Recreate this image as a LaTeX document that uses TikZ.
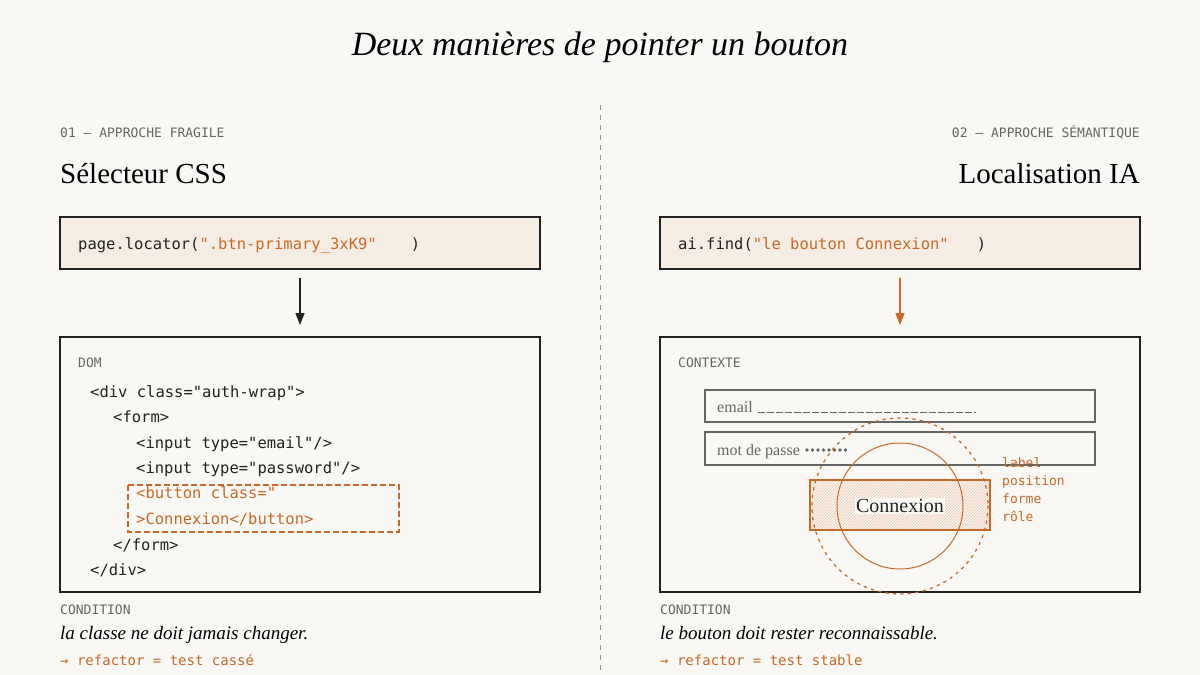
\documentclass[tikz,border=0pt]{standalone}
\usepackage{fontspec}
\setmainfont{Liberation Serif}
\setmonofont{DejaVu Sans Mono}
\usetikzlibrary{patterns,arrows.meta}
\definecolor{bg}{HTML}{FAF8F4}
\definecolor{beige}{HTML}{F5EDE3}
\definecolor{rust}{HTML}{C8692A}
\definecolor{ink}{HTML}{222222}
\definecolor{muted}{HTML}{666666}
\tikzset{
  tag/.style={anchor=base west, font=\fontsize{13}{15}\selectfont\ttfamily, text=muted, inner sep=0},
  code/.style={anchor=base west, font=\fontsize{15.5}{18}\selectfont\ttfamily, text=ink, inner sep=0},
  frame/.style={draw=ink, line width=1.2pt},
  flow/.style={-{Triangle[length=12pt,width=9pt]}, line width=1.3pt},
}
\begin{document}
\begin{tikzpicture}[x=1pt,y=-1pt]
\fill[bg] (0,0) rectangle (1200,675);
\useasboundingbox (0,0) rectangle (1200,675);

% title and divider
\node (title) at (600,47) {\fontsize{34}{38}\selectfont\itshape Deux manières de pointer un bouton};
\draw[muted!70, line width=1pt, dash pattern=on 5pt off 5pt] (600,105) -- (600,675);

% left column
\node[tag] (tagL) at (60,137) {01 — APPROCHE FRAGILE};
\node[anchor=base west, inner sep=0, font=\fontsize{29}{32}\selectfont] (headL) at (60,183) {Sélecteur CSS};
\draw[frame, fill=beige] (60,217) rectangle (540,269);
\node[code] (callL) at (78,249) {page.locator(\textcolor{rust}{".btn-primary\_3xK9"}\quad\ \ )};
\coordinate (aL1) at (300,278);
\coordinate (aL2) at (300,325);
\draw[flow, ink] (aL1) -- (aL2);
\draw[frame] (60,337) rectangle (540,592);
\node[tag] (dom) at (78,367) {DOM};
\node[code] (d1) at (90,397) {<div class="auth-wrap">};
\node[code] (d2) at (113,422) {<form>};
\node[code] (d3) at (136,448) {<input type="email"/>};
\node[code] (d4) at (136,473) {<input type="password"/>};
\node[code, text=rust] (d5) at (136,498) {<button class="};
\node[code, text=rust] (d6) at (136,524) {>Connexion</button>};
\node[code] (d7) at (113,550) {</form>};
\node[code] (d8) at (90,575) {</div>};
\draw[rust, line width=1.5pt, dash pattern=on 6pt off 3pt] (128,485) rectangle (399,532);
\node[tag] (condL) at (60,614) {CONDITION};
\node[anchor=base west, inner sep=0, font=\fontsize{19}{21}\selectfont\itshape] (txtL) at (60,639) {la classe ne doit jamais changer.};
\node[code, text=rust, font=\fontsize{14}{16}\selectfont\ttfamily] (resL) at (60,665) {→ refactor = test cassé};

% right column
\node[tag, anchor=base east] (tagR) at (1140,137) {02 — APPROCHE SÉMANTIQUE};
\node[anchor=base east, inner sep=0, font=\fontsize{29}{32}\selectfont] (headR) at (1140,183) {Localisation IA};
\draw[frame, fill=beige] (660,217) rectangle (1140,269);
\node[code] (callR) at (678,249) {ai.find(\textcolor{rust}{"le bouton Connexion"}\ \ \ )};
\coordinate (aR1) at (900,278);
\coordinate (aR2) at (900,325);
\draw[flow, rust] (aR1) -- (aR2);
\draw[frame] (660,337) rectangle (1140,592);
\node[tag] (ctx) at (678,367) {CONTEXTE};
\draw[muted, line width=1.2pt] (705,390) rectangle (1095,422);
\node[anchor=base west, inner sep=0, text=muted, font=\fontsize{16}{18}\selectfont] (email) at (717,412) {email};
\draw[muted, line width=1pt, dash pattern=on 7pt off 2pt] ([xshift=5pt]email.base east) -- ++(218,0);
\draw[muted, line width=1.2pt] (705,432) rectangle (1095,465);
\node[anchor=base west, inner sep=0, text=muted, font=\fontsize{16}{18}\selectfont] (pwd) at (717,455) {mot de passe};
\foreach \k in {0,...,7}
  \fill[muted] ([xshift=7pt+5.5*\k pt, yshift=5pt]pwd.base east) circle (1.9);
\fill[pattern=north east lines, pattern color=rust!40] (810,480) rectangle (990,530);
\draw[rust, line width=2.5pt] (810,480) rectangle (990,530);
\draw[rust, line width=1pt] (900,506) circle (63);
\draw[rust, line width=1.3pt, line cap=round, dash pattern=on 2.5pt off 5pt] (900,506) circle (88);
\node[fill=bg, inner sep=1pt, font=\fontsize{20}{22}\selectfont, text=ink] (btn) at (900,506) {Connexion};
\foreach \w [count=\i] in {label,position,forme,rôle}
  \node[code, text=rust, font=\fontsize{13}{15}\selectfont\ttfamily] (cue\i) at (1002,467+18*\i-18) {\w};
\node[tag] (condR) at (660,614) {CONDITION};
\node[anchor=base west, inner sep=0, font=\fontsize{19}{21}\selectfont\itshape] (txtR) at (660,639) {le bouton doit rester reconnaissable.};
\node[code, text=rust, font=\fontsize{14}{16}\selectfont\ttfamily] (resR) at (660,665) {→ refactor = test stable};
\end{tikzpicture}
\end{document}
